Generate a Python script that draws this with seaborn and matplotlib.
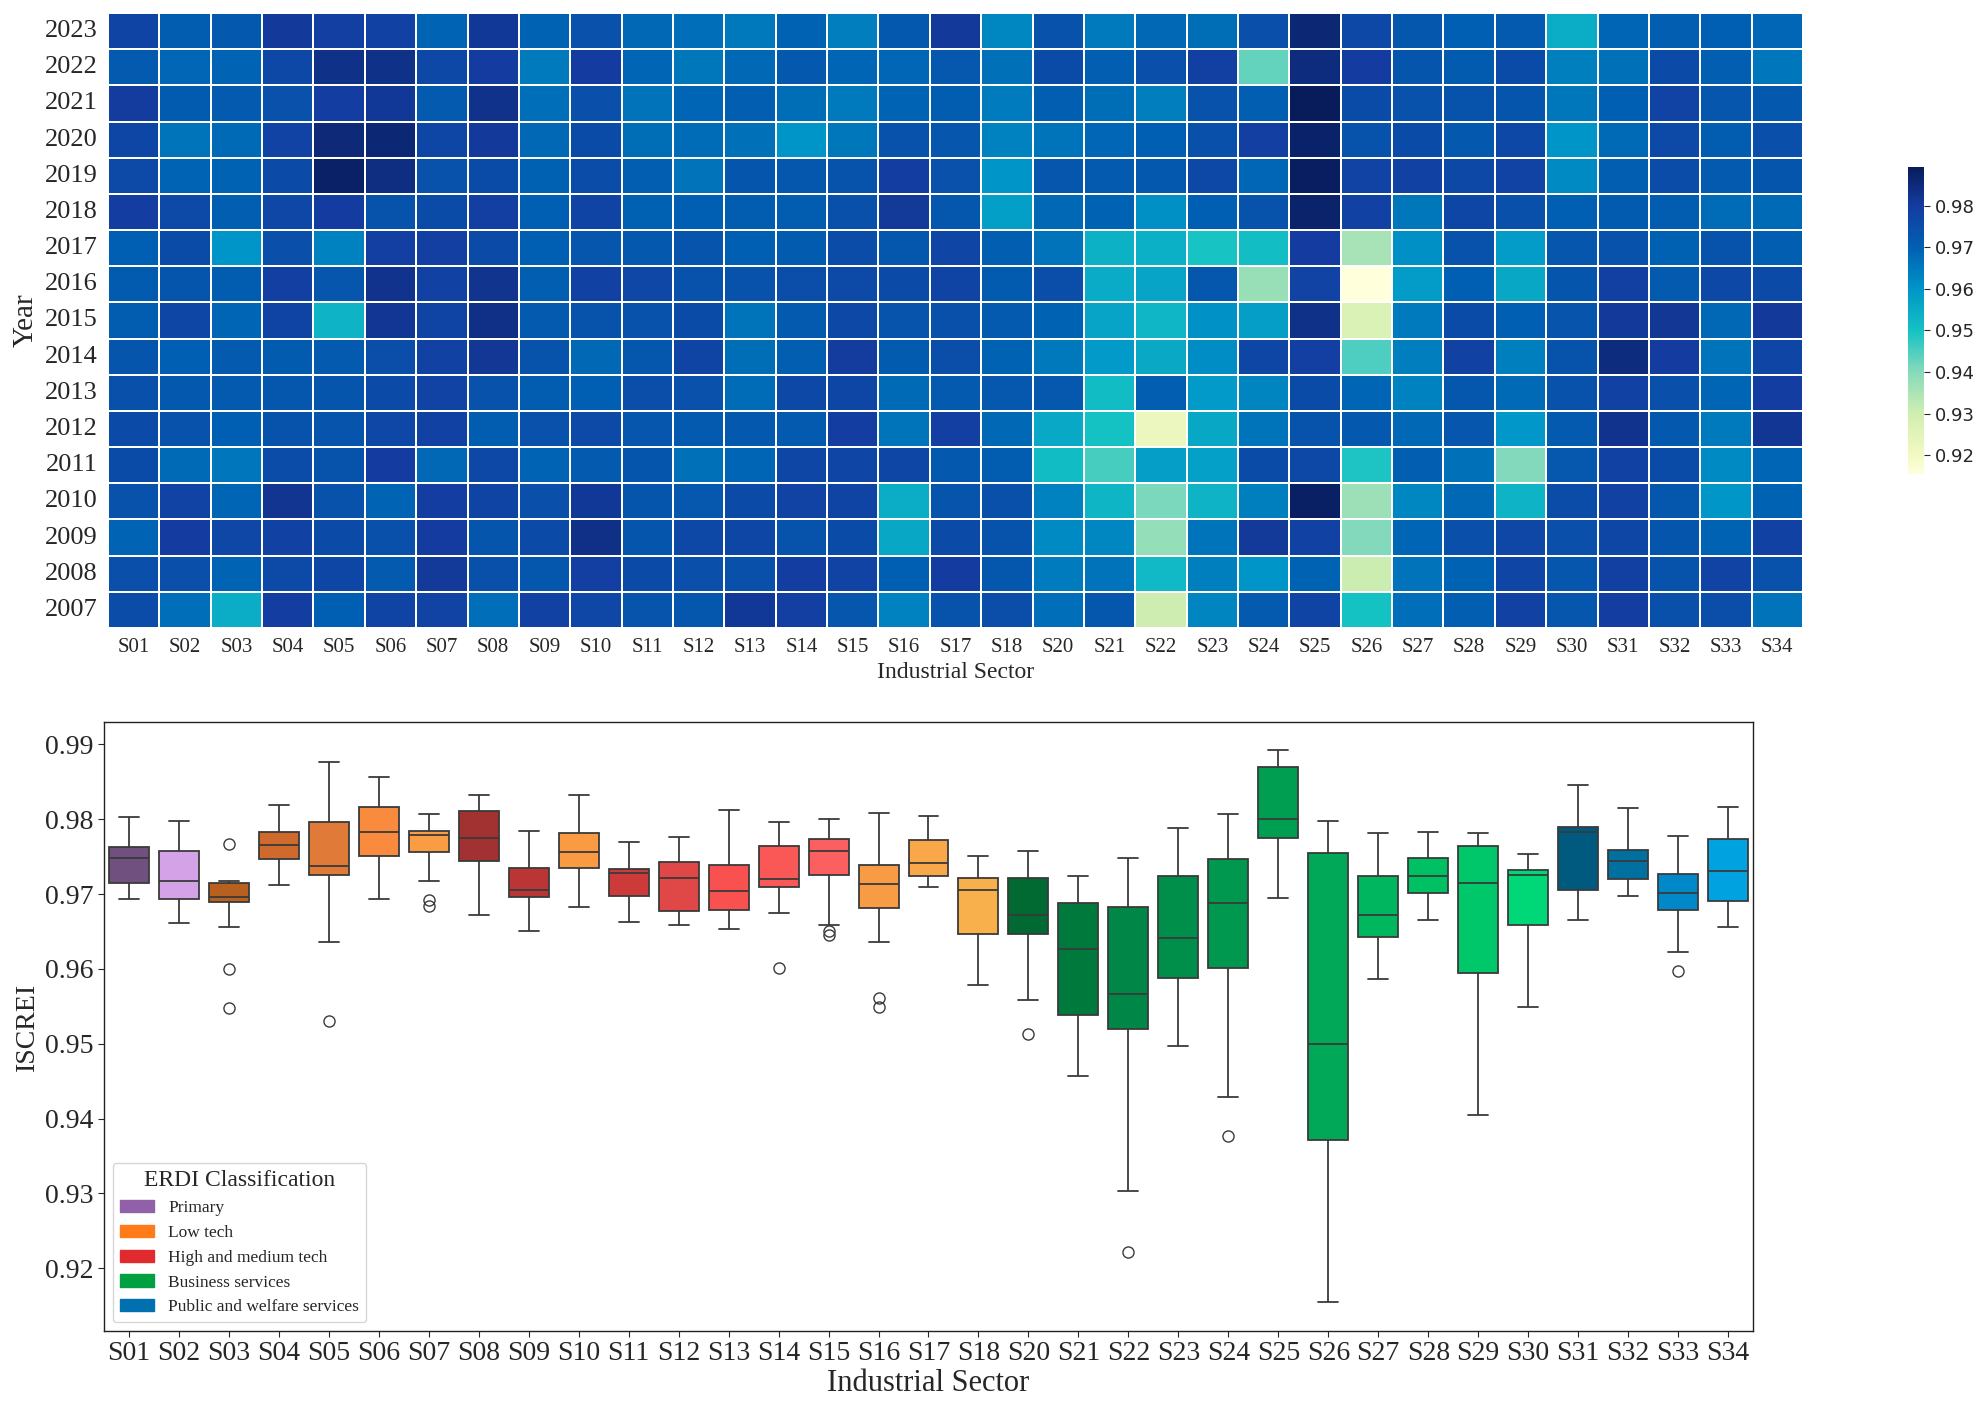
import numpy as np
import pandas as pd
import matplotlib
matplotlib.use("Agg")
import matplotlib.pyplot as plt
import seaborn as sns
from matplotlib.colors import LinearSegmentedColormap
from matplotlib.patches import Patch

# ---------------- data ----------------
years = [2023, 2022, 2021, 2020, 2019, 2018, 2017, 2016, 2015, 2014, 2013, 2012, 2011, 2010, 2009, 2008, 2007]
sectors = ["S01", "S02", "S03", "S04", "S05", "S06", "S07", "S08", "S09", "S10", "S11", "S12",
           "S13", "S14", "S15", "S16", "S17", "S18", "S20", "S21", "S22", "S23", "S24", "S25",
           "S26", "S27", "S28", "S29", "S30", "S31", "S32", "S33", "S34"]

# ISCREI per sector, years 2023 -> 2007
s01 = [0.9775, 0.9715, 0.9803, 0.9770, 0.9763, 0.9795, 0.9700, 0.9712, 0.9710, 0.9730, 0.9745, 0.9760, 0.9756, 0.9738, 0.9693, 0.9748, 0.9752]
s02 = [0.9708, 0.9688, 0.9713, 0.9661, 0.9693, 0.9762, 0.9757, 0.9730, 0.9770, 0.9700, 0.9718, 0.9740, 0.9680, 0.9780, 0.9798, 0.9748, 0.9672]
s03 = [0.9718, 0.9694, 0.9715, 0.9680, 0.9696, 0.9705, 0.9600, 0.9710, 0.9690, 0.9716, 0.9717, 0.9700, 0.9656, 0.9690, 0.9767, 0.9692, 0.9548]
s04 = [0.9805, 0.9766, 0.9742, 0.9780, 0.9758, 0.9768, 0.9747, 0.9790, 0.9775, 0.9712, 0.9725, 0.9735, 0.9752, 0.9819, 0.9783, 0.9762, 0.9795]
s05 = [0.9790, 0.9830, 0.9796, 0.9855, 0.9876, 0.9800, 0.9636, 0.9726, 0.9531, 0.9715, 0.9730, 0.9733, 0.9735, 0.9738, 0.9760, 0.9770, 0.9700]
s06 = [0.9783, 0.9830, 0.9810, 0.9857, 0.9840, 0.9735, 0.9790, 0.9825, 0.9816, 0.9751, 0.9760, 0.9768, 0.9800, 0.9693, 0.9745, 0.9715, 0.9775]
s07 = [0.9692, 0.9765, 0.9717, 0.9770, 0.9740, 0.9756, 0.9790, 0.9784, 0.9775, 0.9781, 0.9779, 0.9782, 0.9684, 0.9795, 0.9800, 0.9807, 0.9780]
s08 = [0.9811, 0.9800, 0.9828, 0.9805, 0.9755, 0.9790, 0.9760, 0.9822, 0.9833, 0.9815, 0.9740, 0.9710, 0.9765, 0.9775, 0.9730, 0.9744, 0.9672]
s09 = [0.9696, 0.9650, 0.9672, 0.9685, 0.9698, 0.9700, 0.9702, 0.9705, 0.9715, 0.9735, 0.9708, 0.9742, 0.9692, 0.9748, 0.9760, 0.9725, 0.9784]
s10 = [0.9742, 0.9800, 0.9748, 0.9756, 0.9752, 0.9775, 0.9728, 0.9782, 0.9735, 0.9683, 0.9700, 0.9762, 0.9715, 0.9810, 0.9833, 0.9790, 0.9768]
s11 = [0.9685, 0.9690, 0.9663, 0.9675, 0.9705, 0.9698, 0.9718, 0.9769, 0.9740, 0.9725, 0.9750, 0.9728, 0.9729, 0.9730, 0.9731, 0.9760, 0.9733]
s12 = [0.9672, 0.9659, 0.9690, 0.9677, 0.9663, 0.9700, 0.9732, 0.9738, 0.9755, 0.9776, 0.9743, 0.9715, 0.9668, 0.9721, 0.9765, 0.9748, 0.9725]
s13 = [0.9653, 0.9685, 0.9704, 0.9668, 0.9730, 0.9710, 0.9700, 0.9739, 0.9660, 0.9674, 0.9679, 0.9718, 0.9690, 0.9760, 0.9770, 0.9745, 0.9812]
s14 = [0.9695, 0.9720, 0.9675, 0.9601, 0.9725, 0.9710, 0.9712, 0.9750, 0.9715, 0.9705, 0.9764, 0.9717, 0.9770, 0.9780, 0.9735, 0.9797, 0.9790]
s15 = [0.9645, 0.9690, 0.9650, 0.9658, 0.9735, 0.9745, 0.9752, 0.9762, 0.9765, 0.9801, 0.9770, 0.9795, 0.9773, 0.9775, 0.9757, 0.9780, 0.9726]
s16 = [0.9720, 0.9688, 0.9692, 0.9739, 0.9795, 0.9809, 0.9725, 0.9760, 0.9732, 0.9714, 0.9682, 0.9660, 0.9770, 0.9549, 0.9561, 0.9700, 0.9636]
s17 = [0.9805, 0.9722, 0.9709, 0.9728, 0.9741, 0.9724, 0.9772, 0.9775, 0.9745, 0.9750, 0.9715, 0.9790, 0.9720, 0.9732, 0.9760, 0.9798, 0.9736]
s18 = [0.9625, 0.9670, 0.9646, 0.9635, 0.9600, 0.9578, 0.9705, 0.9712, 0.9715, 0.9695, 0.9721, 0.9685, 0.9708, 0.9745, 0.9735, 0.9725, 0.9751]
s20 = [0.9740, 0.9757, 0.9705, 0.9660, 0.9728, 0.9685, 0.9665, 0.9750, 0.9695, 0.9652, 0.9721, 0.9558, 0.9513, 0.9635, 0.9620, 0.9647, 0.9672]
s21 = [0.9650, 0.9705, 0.9675, 0.9688, 0.9715, 0.9695, 0.9538, 0.9550, 0.9565, 0.9590, 0.9515, 0.9500, 0.9457, 0.9528, 0.9627, 0.9665, 0.9724]
s22 = [0.9683, 0.9748, 0.9645, 0.9700, 0.9720, 0.9610, 0.9540, 0.9567, 0.9525, 0.9555, 0.9705, 0.9221, 0.9580, 0.9410, 0.9380, 0.9519, 0.9303]
s23 = [0.9675, 0.9788, 0.9740, 0.9745, 0.9765, 0.9700, 0.9497, 0.9724, 0.9605, 0.9615, 0.9588, 0.9560, 0.9575, 0.9530, 0.9660, 0.9641, 0.9628]
s24 = [0.9747, 0.9429, 0.9705, 0.9790, 0.9688, 0.9735, 0.9510, 0.9376, 0.9580, 0.9770, 0.9630, 0.9660, 0.9755, 0.9640, 0.9807, 0.9601, 0.9715]
s25 = [0.9860, 0.9845, 0.9893, 0.9875, 0.9885, 0.9870, 0.9800, 0.9780, 0.9830, 0.9792, 0.9755, 0.9735, 0.9765, 0.9880, 0.9785, 0.9695, 0.9775]
s26 = [0.9765, 0.9798, 0.9755, 0.9735, 0.9780, 0.9785, 0.9355, 0.9155, 0.9270, 0.9450, 0.9690, 0.9720, 0.9490, 0.9371, 0.9405, 0.9305, 0.9500]
s27 = [0.9724, 0.9730, 0.9738, 0.9755, 0.9782, 0.9658, 0.9610, 0.9587, 0.9650, 0.9643, 0.9635, 0.9685, 0.9705, 0.9625, 0.9690, 0.9665, 0.9672]
s28 = [0.9700, 0.9712, 0.9735, 0.9718, 0.9765, 0.9770, 0.9740, 0.9702, 0.9755, 0.9783, 0.9724, 0.9727, 0.9666, 0.9685, 0.9748, 0.9695, 0.9705]
s29 = [0.9715, 0.9755, 0.9730, 0.9764, 0.9778, 0.9745, 0.9585, 0.9560, 0.9700, 0.9640, 0.9680, 0.9594, 0.9405, 0.9530, 0.9768, 0.9772, 0.9782]
s30 = [0.9549, 0.9640, 0.9658, 0.9600, 0.9620, 0.9700, 0.9728, 0.9730, 0.9732, 0.9735, 0.9740, 0.9715, 0.9722, 0.9753, 0.9748, 0.9726, 0.9727]
s31 = [0.9690, 0.9666, 0.9700, 0.9680, 0.9705, 0.9712, 0.9740, 0.9787, 0.9805, 0.9846, 0.9785, 0.9825, 0.9784, 0.9783, 0.9770, 0.9789, 0.9795]
s32 = [0.9705, 0.9759, 0.9780, 0.9762, 0.9752, 0.9710, 0.9698, 0.9715, 0.9815, 0.9800, 0.9748, 0.9720, 0.9755, 0.9725, 0.9730, 0.9735, 0.9744]
s33 = [0.9702, 0.9705, 0.9727, 0.9708, 0.9715, 0.9679, 0.9735, 0.9765, 0.9685, 0.9665, 0.9690, 0.9650, 0.9622, 0.9597, 0.9695, 0.9778, 0.9750]
s34 = [0.9688, 0.9656, 0.9718, 0.9748, 0.9731, 0.9680, 0.9705, 0.9760, 0.9805, 0.9773, 0.9795, 0.9817, 0.9691, 0.9695, 0.9785, 0.9740, 0.9665]

series = [s01, s02, s03, s04, s05, s06, s07, s08, s09, s10, s11, s12, s13, s14, s15, s16, s17,
          s18, s20, s21, s22, s23, s24, s25, s26, s27, s28, s29, s30, s31, s32, s33, s34]

sector_colors = ["#70507f", "#d4a2e6", "#b8601e", "#cf6a2c", "#e07a38", "#f88b3e", "#fa9c44",
                 "#a23232", "#bb3535", "#fa9a42", "#cc3a3a", "#e04848", "#f95050", "#fa5757",
                 "#fb5f5f", "#f79c45", "#f8a848", "#f8b04c", "#006a32", "#007a3c", "#008646",
                 "#008f4a", "#00984f", "#009e50", "#00a857", "#00b65e", "#00c064", "#00c86a",
                 "#00d878", "#005a80", "#0070a0", "#0088c8", "#00a2e0"]

classes = ["Primary", "Low tech", "High and medium tech", "Business services", "Public and welfare services"]
class_colors = ["#9060a8", "#ff7b1a", "#e02a2e", "#00a040", "#0070b0"]

# ---------------- styling ----------------
sns.set_style("white")
plt.rcParams["font.family"] = ["Liberation Serif", "DejaVu Serif"]

heat = pd.DataFrame({s: v for s, v in zip(sectors, series)}, index=years)
long = heat.reset_index().melt(id_vars="index", var_name="Sector", value_name="ISCREI")

cmap = LinearSegmentedColormap.from_list(
    "ylgnbu_sat",
    [(0.000, "#ffffdc"), (0.061, "#f2f9c2"), (0.196, "#d0eeb0"), (0.332, "#86dabb"),
     (0.467, "#14c2c4"), (0.603, "#0095c8"), (0.738, "#0060b2"), (0.874, "#143ca0"),
     (1.000, "#081c5c")])

W, H = 1981, 1401
fig = plt.figure(figsize=(W / 100, H / 100), dpi=100)
ax1 = fig.add_axes([108 / W, 1 - 628 / H, (1803 - 108) / W, (628 - 13) / H])
cax = fig.add_axes([1908 / W, 1 - 474 / H, 16 / W, 307 / H])
ax2 = fig.add_axes([104 / W, 1 - 1331 / H, (1753 - 104) / W, (1331 - 722) / H])

# ---------------- heatmap ----------------
sns.heatmap(heat, cmap=cmap, linewidths=1.3, linecolor="white", ax=ax1, cbar_ax=cax)
ax1.set_xlabel("Industrial Sector", fontsize=17, labelpad=3)
ax1.set_ylabel("Year", fontsize=21, labelpad=4)
ax1.tick_params(axis="x", labelsize=15, rotation=0, length=4)
ax1.tick_params(axis="y", labelsize=19, rotation=0, length=4)
cax.set_yticks([0.92, 0.93, 0.94, 0.95, 0.96, 0.97, 0.98])
cax.tick_params(labelsize=13, length=4)
for t in cax.get_yticklabels():
    t.set_family("DejaVu Sans")

# ---------------- boxplot ----------------
sns.boxplot(data=long, x="Sector", y="ISCREI", hue="Sector", order=sectors,
            hue_order=sectors, palette=sector_colors, legend=False, width=0.8,
            linecolor="#3a3a3a", linewidth=1.3, saturation=1, fliersize=8,
            flierprops=dict(marker="o", markerfacecolor="none", markeredgecolor="#3a3a3a"),
            ax=ax2)
ax2.set_xlim(-0.5, len(sectors) - 0.5)
ax2.set_ylim(0.9116, 0.9930)
ax2.set_xlabel("Industrial Sector", fontsize=22, labelpad=2)
ax2.set_ylabel("ISCREI", fontsize=20)
ax2.tick_params(axis="both", labelsize=20, length=4, left=True, bottom=True)
for sp in ax2.spines.values():
    sp.set_visible(True)
    sp.set_color("#222222")
    sp.set_linewidth(1.0)

handles = [Patch(facecolor=c, edgecolor=c, label=l) for l, c in zip(classes, class_colors)]
ax2.legend(handles=handles, title="ERDI Classification", loc="lower left",
           fontsize=12.5, title_fontsize=17, frameon=True)

fig.savefig("out.png", dpi=100)
